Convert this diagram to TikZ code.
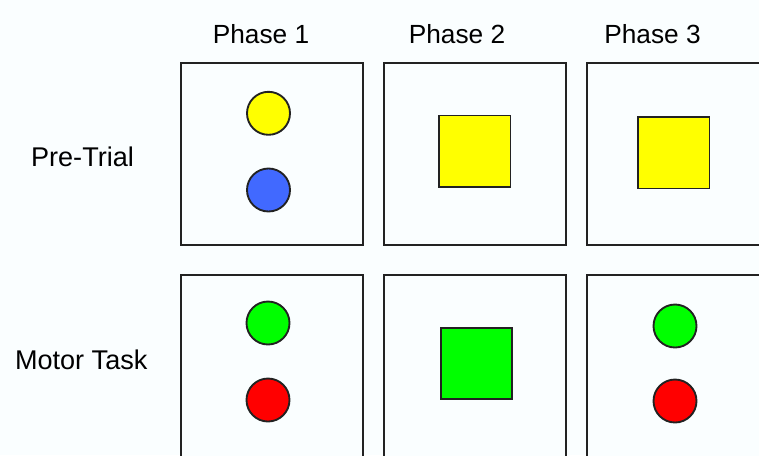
\documentclass[tikz,border=0pt]{standalone}
\usepackage{fontspec}
\setmainfont{Liberation Sans}
\usetikzlibrary{positioning}
\definecolor{cpaper}{HTML}{FAFEFF}
\definecolor{cline}{HTML}{222222}
\definecolor{cyellow}{HTML}{FFFF00}
\definecolor{cblue}{HTML}{4169FF}
\definecolor{cgreen}{HTML}{00FF00}
\definecolor{cred}{HTML}{FF0000}
\tikzset{
  panel/.style={draw=cline, line width=1.5pt, fill=cpaper, minimum width=136.5pt, minimum height=136.5pt, inner sep=0pt},
  cue/.style={circle, draw=cline, line width=1.4pt, fill=#1, minimum size=32.25pt, inner sep=0pt},
  target/.style={draw=cline, line width=1.1pt, fill=#1, minimum size=53.5pt, inner sep=0pt},
  head/.style={font=\fontsize{19.7}{23}\selectfont, anchor=base},
  rowlabel/.style={font=\fontsize{20.3}{24}\selectfont, anchor=base},
}

\begin{document}
\begin{tikzpicture}[x=0.75pt, y=-0.75pt]
  \useasboundingbox (0,0) rectangle (759,455);
  \fill[cpaper] (0,0) rectangle (759,455);
  % ---------- headers ----------
  \foreach \x/\n in {261/1, 457/2, 652.5/3}
    \node[head] (ph\n) at (\x, 43.3) {Phase \n};
  \node[rowlabel] (pre) at (82.5, 166.7) {Pre-Trial};
  \node[rowlabel] (mot) at (81.2, 369) {Motor Task};
  % ---------- pre-trial row ----------
  \node[panel] (pre1) at (271.5, 154) {};
  \node[panel] (pre2) at (474.5, 154) {};
  \node[panel] (pre3) at (677.5, 154) {};
  \node[cue=cyellow] (pre1a) at (268.5, 113.3) {};
  \node[cue=cblue] (pre1b) at (268.5, 190) {};
  \node[target=cyellow] (pre2sq) at (474.7, 151.3) {};
  \node[target=cyellow] (pre3sq) at (673.7, 152.7) {};
  % ---------- motor task row ----------
  \node[panel] (mot1) at (271.5, 366) {};
  \node[panel] (mot2) at (474.5, 366) {};
  \node[panel] (mot3) at (677.5, 366) {};
  \node[cue=cgreen] (mot1a) at (268, 323) {};
  \node[cue=cred] (mot1b) at (268, 400) {};
  \node[target=cgreen] (mot2sq) at (476.5, 363.5) {};
  \node[cue=cgreen] (mot3a) at (675, 326) {};
  \node[cue=cred] (mot3b) at (675, 401) {};
\end{tikzpicture}
\end{document}
